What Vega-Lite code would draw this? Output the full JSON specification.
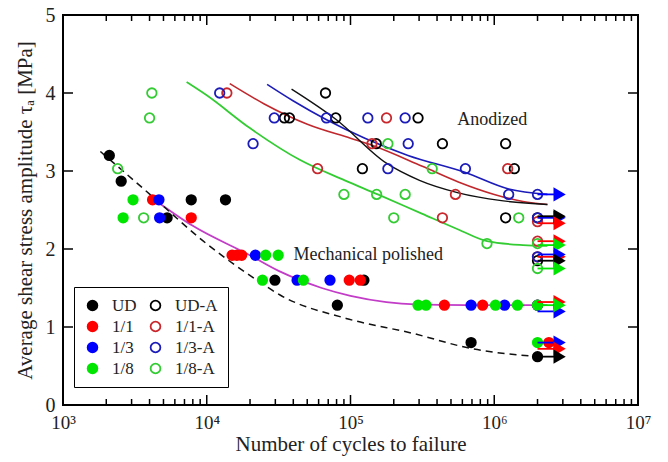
{
  "$schema": "https://vega.github.io/schema/vega-lite/v6.json",
  "width": 575,
  "height": 390,
  "autosize": {"type": "none"},
  "padding": {"left": 63, "top": 15, "right": 30, "bottom": 57},
  "background": "white",
  "config": {
    "view": {"stroke": "black", "strokeWidth": 2},
    "font": "Liberation Serif",
    "axis": {"labelFont": "Liberation Serif", "titleFont": "Liberation Serif", "labelColor": "#222", "titleColor": "#222", "titleFontWeight": "normal", "grid": false, "domain": false, "ticks": false, "labelFlush": false, "labelOverlap": false, "labelBound": false}
  },
  "datasets": {
    "xticks": [
      {"N": 1000, "kind": "major"}, {"N": 10000, "kind": "major"}, {"N": 100000, "kind": "major"}, {"N": 1000000, "kind": "major"}, {"N": 10000000, "kind": "major"},
      {"N": 2000, "kind": "minor"}, {"N": 3000, "kind": "minor"}, {"N": 4000, "kind": "minor"}, {"N": 5000, "kind": "minor"}, {"N": 6000, "kind": "minor"}, {"N": 7000, "kind": "minor"}, {"N": 8000, "kind": "minor"}, {"N": 9000, "kind": "minor"},
      {"N": 20000, "kind": "minor"}, {"N": 30000, "kind": "minor"}, {"N": 40000, "kind": "minor"}, {"N": 50000, "kind": "minor"}, {"N": 60000, "kind": "minor"}, {"N": 70000, "kind": "minor"}, {"N": 80000, "kind": "minor"}, {"N": 90000, "kind": "minor"},
      {"N": 200000, "kind": "minor"}, {"N": 300000, "kind": "minor"}, {"N": 400000, "kind": "minor"}, {"N": 500000, "kind": "minor"}, {"N": 600000, "kind": "minor"}, {"N": 700000, "kind": "minor"}, {"N": 800000, "kind": "minor"}, {"N": 900000, "kind": "minor"},
      {"N": 2000000, "kind": "minor"}, {"N": 3000000, "kind": "minor"}, {"N": 4000000, "kind": "minor"}, {"N": 5000000, "kind": "minor"}, {"N": 6000000, "kind": "minor"}, {"N": 7000000, "kind": "minor"}, {"N": 8000000, "kind": "minor"}, {"N": 9000000, "kind": "minor"}
    ],
    "yticks": [{"tau": 1}, {"tau": 2}, {"tau": 3}, {"tau": 4}],
    "points": [
      {"series": "UD", "N": 2100, "tau": 3.2}, {"series": "UD", "N": 2540, "tau": 2.87}, {"series": "UD", "N": 7800, "tau": 2.63}, {"series": "UD", "N": 13500, "tau": 2.63}, {"series": "UD", "N": 5300, "tau": 2.4}, {"series": "UD", "N": 29800, "tau": 1.6}, {"series": "UD", "N": 81000, "tau": 1.28}, {"series": "UD", "N": 124000, "tau": 1.6}, {"series": "UD", "N": 690000, "tau": 0.8}, {"series": "UD", "N": 2000000, "tau": 0.62},
      {"series": "1/1", "N": 4200, "tau": 2.63}, {"series": "1/1", "N": 7800, "tau": 2.4}, {"series": "1/1", "N": 15000, "tau": 1.92}, {"series": "1/1", "N": 16200, "tau": 1.92}, {"series": "1/1", "N": 17500, "tau": 1.92}, {"series": "1/1", "N": 98000, "tau": 1.6}, {"series": "1/1", "N": 117000, "tau": 1.6}, {"series": "1/1", "N": 450000, "tau": 1.28}, {"series": "1/1", "N": 830000, "tau": 1.28}, {"series": "1/1", "N": 2000000, "tau": 1.28}, {"series": "1/1", "N": 2400000, "tau": 0.8},
      {"series": "1/3", "N": 4650, "tau": 2.63}, {"series": "1/3", "N": 4700, "tau": 2.4}, {"series": "1/3", "N": 21800, "tau": 1.92}, {"series": "1/3", "N": 42500, "tau": 1.6}, {"series": "1/3", "N": 72000, "tau": 1.6}, {"series": "1/3", "N": 690000, "tau": 1.28}, {"series": "1/3", "N": 1180000, "tau": 1.28}, {"series": "1/3", "N": 2000000, "tau": 1.28},
      {"series": "1/8", "N": 3070, "tau": 2.63}, {"series": "1/8", "N": 2620, "tau": 2.4}, {"series": "1/8", "N": 25700, "tau": 1.92}, {"series": "1/8", "N": 31400, "tau": 1.92}, {"series": "1/8", "N": 24400, "tau": 1.6}, {"series": "1/8", "N": 47000, "tau": 1.6}, {"series": "1/8", "N": 295000, "tau": 1.28}, {"series": "1/8", "N": 335000, "tau": 1.28}, {"series": "1/8", "N": 1020000, "tau": 1.28}, {"series": "1/8", "N": 1450000, "tau": 1.28}, {"series": "1/8", "N": 2000000, "tau": 1.28}, {"series": "1/8", "N": 2000000, "tau": 0.8},
      {"series": "UD-A", "N": 67000, "tau": 4.0}, {"series": "UD-A", "N": 34700, "tau": 3.68}, {"series": "UD-A", "N": 37600, "tau": 3.68}, {"series": "UD-A", "N": 79000, "tau": 3.68}, {"series": "UD-A", "N": 295000, "tau": 3.68}, {"series": "UD-A", "N": 151000, "tau": 3.35}, {"series": "UD-A", "N": 121000, "tau": 3.03}, {"series": "UD-A", "N": 436000, "tau": 3.35}, {"series": "UD-A", "N": 1200000, "tau": 3.35}, {"series": "UD-A", "N": 1380000, "tau": 3.03}, {"series": "UD-A", "N": 1200000, "tau": 2.4}, {"series": "UD-A", "N": 2000000, "tau": 2.4}, {"series": "UD-A", "N": 2000000, "tau": 1.85},
      {"series": "1/1-A", "N": 13800, "tau": 4.0}, {"series": "1/1-A", "N": 178000, "tau": 3.68}, {"series": "1/1-A", "N": 141000, "tau": 3.35}, {"series": "1/1-A", "N": 59000, "tau": 3.03}, {"series": "1/1-A", "N": 537000, "tau": 2.7}, {"series": "1/1-A", "N": 436000, "tau": 2.4}, {"series": "1/1-A", "N": 1240000, "tau": 3.03}, {"series": "1/1-A", "N": 2000000, "tau": 2.35}, {"series": "1/1-A", "N": 2000000, "tau": 2.1}, {"series": "1/1-A", "N": 2000000, "tau": 1.9},
      {"series": "1/3-A", "N": 12300, "tau": 4.0}, {"series": "1/3-A", "N": 29500, "tau": 3.68}, {"series": "1/3-A", "N": 68000, "tau": 3.68}, {"series": "1/3-A", "N": 132000, "tau": 3.68}, {"series": "1/3-A", "N": 240000, "tau": 3.68}, {"series": "1/3-A", "N": 21000, "tau": 3.35}, {"series": "1/3-A", "N": 252000, "tau": 3.35}, {"series": "1/3-A", "N": 182000, "tau": 3.03}, {"series": "1/3-A", "N": 630000, "tau": 3.03}, {"series": "1/3-A", "N": 1260000, "tau": 2.7}, {"series": "1/3-A", "N": 2000000, "tau": 2.7}, {"series": "1/3-A", "N": 2000000, "tau": 2.4}, {"series": "1/3-A", "N": 2000000, "tau": 1.9},
      {"series": "1/8-A", "N": 4150, "tau": 4.0}, {"series": "1/8-A", "N": 4000, "tau": 3.68}, {"series": "1/8-A", "N": 2400, "tau": 3.03}, {"series": "1/8-A", "N": 3640, "tau": 2.4}, {"series": "1/8-A", "N": 90000, "tau": 2.7}, {"series": "1/8-A", "N": 152000, "tau": 2.7}, {"series": "1/8-A", "N": 240000, "tau": 2.7}, {"series": "1/8-A", "N": 200000, "tau": 2.4}, {"series": "1/8-A", "N": 182000, "tau": 3.35}, {"series": "1/8-A", "N": 370000, "tau": 3.03}, {"series": "1/8-A", "N": 890000, "tau": 2.07}, {"series": "1/8-A", "N": 1480000, "tau": 2.4}, {"series": "1/8-A", "N": 2000000, "tau": 2.07}, {"series": "1/8-A", "N": 2000000, "tau": 1.75}
    ],
    "curves": [
      {"curve": "1/8-A", "N": 7244, "tau": 4.14}, {"curve": "1/8-A", "N": 10000, "tau": 3.97}, {"curve": "1/8-A", "N": 19953, "tau": 3.55}, {"curve": "1/8-A", "N": 44668, "tau": 3.14}, {"curve": "1/8-A", "N": 91201, "tau": 2.88}, {"curve": "1/8-A", "N": 154882, "tau": 2.7}, {"curve": "1/8-A", "N": 316228, "tau": 2.45}, {"curve": "1/8-A", "N": 562341, "tau": 2.25}, {"curve": "1/8-A", "N": 891251, "tau": 2.1}, {"curve": "1/8-A", "N": 1584893, "tau": 2.05}, {"curve": "1/8-A", "N": 2344229, "tau": 2.04},
      {"curve": "1/1-A", "N": 14454, "tau": 4.12}, {"curve": "1/1-A", "N": 25119, "tau": 3.86}, {"curve": "1/1-A", "N": 50119, "tau": 3.6}, {"curve": "1/1-A", "N": 100000, "tau": 3.42}, {"curve": "1/1-A", "N": 141254, "tau": 3.33}, {"curve": "1/1-A", "N": 316228, "tau": 3.06}, {"curve": "1/1-A", "N": 562341, "tau": 2.86}, {"curve": "1/1-A", "N": 1000000, "tau": 2.7}, {"curve": "1/1-A", "N": 1584893, "tau": 2.61}, {"curve": "1/1-A", "N": 2344229, "tau": 2.57},
      {"curve": "1/3-A", "N": 26303, "tau": 4.11}, {"curve": "1/3-A", "N": 39811, "tau": 3.9}, {"curve": "1/3-A", "N": 67608, "tau": 3.66}, {"curve": "1/3-A", "N": 125893, "tau": 3.42}, {"curve": "1/3-A", "N": 251189, "tau": 3.2}, {"curve": "1/3-A", "N": 630957, "tau": 2.98}, {"curve": "1/3-A", "N": 1258925, "tau": 2.77}, {"curve": "1/3-A", "N": 2344229, "tau": 2.7},
      {"curve": "UD-A", "N": 38905, "tau": 4.05}, {"curve": "UD-A", "N": 79433, "tau": 3.66}, {"curve": "UD-A", "N": 177828, "tau": 3.1}, {"curve": "UD-A", "N": 301995, "tau": 2.88}, {"curve": "UD-A", "N": 562341, "tau": 2.72}, {"curve": "UD-A", "N": 1122018, "tau": 2.62}, {"curve": "UD-A", "N": 2344229, "tau": 2.57},
      {"curve": "polished", "N": 4571, "tau": 2.6}, {"curve": "polished", "N": 7943, "tau": 2.3}, {"curve": "polished", "N": 19953, "tau": 1.92}, {"curve": "polished", "N": 31623, "tau": 1.72}, {"curve": "polished", "N": 44668, "tau": 1.6}, {"curve": "polished", "N": 63096, "tau": 1.5}, {"curve": "polished", "N": 100000, "tau": 1.4}, {"curve": "polished", "N": 177828, "tau": 1.32}, {"curve": "polished", "N": 281838, "tau": 1.29}, {"curve": "polished", "N": 630957, "tau": 1.28}, {"curve": "polished", "N": 2344229, "tau": 1.28},
      {"curve": "UD", "N": 1820, "tau": 3.25}, {"curve": "UD", "N": 4266, "tau": 2.66}, {"curve": "UD", "N": 9333, "tau": 2.11}, {"curve": "UD", "N": 22387, "tau": 1.6}, {"curve": "UD", "N": 32359, "tau": 1.41}, {"curve": "UD", "N": 93325, "tau": 1.11}, {"curve": "UD", "N": 269153, "tau": 0.92}, {"curve": "UD", "N": 707946, "tau": 0.72}, {"curve": "UD", "N": 2041738, "tau": 0.62}
    ],
    "arrows": [
      {"group": "1/3", "tau": 2.7}, {"group": "1/3", "tau": 2.4}, {"group": "UD", "tau": 2.42}, {"group": "1/1", "tau": 2.33},
      {"group": "1/1", "tau": 2.1}, {"group": "1/8", "tau": 2.05}, {"group": "1/1", "tau": 1.9}, {"group": "1/3", "tau": 1.93}, {"group": "UD", "tau": 1.85},
      {"group": "1/8", "tau": 1.75}, {"group": "1/1", "tau": 1.32}, {"group": "1/3", "tau": 1.2}, {"group": "1/8", "tau": 1.28},
      {"group": "1/3", "tau": 0.8}, {"group": "1/1", "tau": 0.72}, {"group": "UD", "tau": 0.62}
    ],
    "notes": [
      {"label": "Anodized", "N": 968000, "tau": 3.66},
      {"label": "Mechanical polished", "N": 133000, "tau": 1.92}
    ]
  },
  "layer": [
    {
      "data": {"name": "xticks"},
      "transform": [{"filter": "datum.kind == 'major'"}],
      "mark": {"type": "rule", "color": "black", "strokeWidth": 1.5},
      "encoding": {
        "x": {"field": "N", "type": "quantitative", "scale": {"type": "log", "domain": [1000, 10000000], "nice": false},
          "axis": {"orient": "bottom", "ticks": false, "title": "Number of cycles to failure", "titleFontSize": 21, "titlePadding": 1, "labelFontSize": 19, "labelPadding": 8,
            "values": [1000, 10000, 100000, 1000000, 10000000],
            "labelExpr": "datum.value == 1000 ? '10³' : datum.value == 10000 ? '10⁴' : datum.value == 100000 ? '10⁵' : datum.value == 1000000 ? '10⁶' : '10⁷'"}},
        "y": {"datum": 0, "type": "quantitative", "scale": {"domain": [0, 5], "nice": false},
          "axis": {"orient": "left", "ticks": false, "format": "d", "labelExpr": "format(datum.value, 'd')", "title": "Average shear stress amplitude  τₐ  [MPa]", "titleFontSize": 21, "titlePadding": 10, "labelFontSize": 20, "labelPadding": 8, "values": [0, 1, 2, 3, 4, 5]}},
        "y2": {"datum": 0.128}
      }
    },
    {
      "data": {"name": "xticks"},
      "transform": [{"filter": "datum.kind == 'major'"}],
      "mark": {"type": "rule", "color": "black", "strokeWidth": 1.5},
      "encoding": {"x": {"field": "N", "type": "quantitative"}, "y": {"datum": 5, "type": "quantitative"}, "y2": {"datum": 4.872}}
    },
    {
      "data": {"name": "xticks"},
      "transform": [{"filter": "datum.kind == 'minor'"}],
      "mark": {"type": "rule", "color": "black", "strokeWidth": 1.5},
      "encoding": {"x": {"field": "N", "type": "quantitative"}, "y": {"datum": 0, "type": "quantitative"}, "y2": {"datum": 0.077}}
    },
    {
      "data": {"name": "xticks"},
      "transform": [{"filter": "datum.kind == 'minor'"}],
      "mark": {"type": "rule", "color": "black", "strokeWidth": 1.5},
      "encoding": {"x": {"field": "N", "type": "quantitative"}, "y": {"datum": 5, "type": "quantitative"}, "y2": {"datum": 4.923}}
    },
    {
      "data": {"name": "yticks"},
      "mark": {"type": "rule", "color": "black", "strokeWidth": 1.5},
      "encoding": {"y": {"field": "tau", "type": "quantitative"}, "x": {"datum": 1000, "type": "quantitative"}, "x2": {"datum": 1174}}
    },
    {
      "data": {"name": "yticks"},
      "mark": {"type": "rule", "color": "black", "strokeWidth": 1.5},
      "encoding": {"y": {"field": "tau", "type": "quantitative"}, "x": {"datum": 8520000, "type": "quantitative"}, "x2": {"datum": 10000000}}
    },
    {
      "data": {"name": "curves"},
      "transform": [{"filter": "datum.curve == '1/8-A'"}],
      "mark": {"type": "line", "color": "#33cc33", "strokeWidth": 1.8, "interpolate": "monotone"},
      "encoding": {"x": {"field": "N", "type": "quantitative"}, "y": {"field": "tau", "type": "quantitative"}}
    },
    {
      "data": {"name": "curves"},
      "transform": [{"filter": "datum.curve == '1/1-A'"}],
      "mark": {"type": "line", "color": "#c0282d", "strokeWidth": 1.6, "interpolate": "monotone"},
      "encoding": {"x": {"field": "N", "type": "quantitative"}, "y": {"field": "tau", "type": "quantitative"}}
    },
    {
      "data": {"name": "curves"},
      "transform": [{"filter": "datum.curve == '1/3-A'"}],
      "mark": {"type": "line", "color": "#1c1cb8", "strokeWidth": 1.6, "interpolate": "monotone"},
      "encoding": {"x": {"field": "N", "type": "quantitative"}, "y": {"field": "tau", "type": "quantitative"}}
    },
    {
      "data": {"name": "curves"},
      "transform": [{"filter": "datum.curve == 'UD-A'"}],
      "mark": {"type": "line", "color": "#111111", "strokeWidth": 1.4, "interpolate": "monotone"},
      "encoding": {"x": {"field": "N", "type": "quantitative"}, "y": {"field": "tau", "type": "quantitative"}}
    },
    {
      "data": {"name": "curves"},
      "transform": [{"filter": "datum.curve == 'polished'"}],
      "mark": {"type": "line", "color": "#c23cc8", "strokeWidth": 1.8, "interpolate": "monotone"},
      "encoding": {"x": {"field": "N", "type": "quantitative"}, "y": {"field": "tau", "type": "quantitative"}}
    },
    {
      "data": {"name": "curves"},
      "transform": [{"filter": "datum.curve == 'UD'"}],
      "mark": {"type": "line", "color": "#111111", "strokeWidth": 1.5, "strokeDash": [7, 5], "interpolate": "monotone"},
      "encoding": {"x": {"field": "N", "type": "quantitative"}, "y": {"field": "tau", "type": "quantitative"}}
    },
    {
      "data": {"name": "points"},
      "mark": {"type": "point", "shape": "circle", "size": 90, "strokeWidth": 1.8, "opacity": 1},
      "encoding": {
        "x": {"field": "N", "type": "quantitative"},
        "y": {"field": "tau", "type": "quantitative"},
        "fill": {"field": "series", "type": "nominal",
          "scale": {"domain": ["UD","1/1","1/3","1/8","UD-A","1/1-A","1/3-A","1/8-A"], "range": ["#000000","#ff0000","#0000ff","#00e600","transparent","transparent","transparent","transparent"]},
          "legend": {"title": null, "orient": "none", "legendX": 11, "legendY": 272, "columns": 2, "padding": 10, "symbolSize": 95, "symbolStrokeWidth": 1.8, "symbolOpacity": 1, "symbolType": "circle", "labelFont": "Liberation Serif", "labelFontSize": 17, "labelColor": "#222", "labelOffset": 11, "columnPadding": 10, "rowPadding": 3, "fillColor": "white", "strokeColor": "black"}},
        "stroke": {"field": "series", "type": "nominal",
          "scale": {"domain": ["UD","1/1","1/3","1/8","UD-A","1/1-A","1/3-A","1/8-A"], "range": ["#000000","#ff0000","#0000ff","#00e600","#000000","#c8282d","#1c1cb8","#33cc33"]},
          "legend": {"title": null, "orient": "none", "legendX": 11, "legendY": 272, "columns": 2, "padding": 10, "symbolSize": 95, "symbolStrokeWidth": 1.8, "symbolOpacity": 1, "symbolType": "circle", "labelFont": "Liberation Serif", "labelFontSize": 17, "labelColor": "#222", "labelOffset": 11, "columnPadding": 10, "rowPadding": 3, "fillColor": "white", "strokeColor": "black"}}
      }
    },
    {
      "data": {"name": "arrows"},
      "mark": {"type": "rule", "strokeWidth": 1.8},
      "encoding": {
        "x": {"datum": 2000000, "type": "quantitative"},
        "x2": {"datum": 2750000},
        "y": {"field": "tau", "type": "quantitative"},
        "color": {"field": "group", "type": "nominal", "scale": {"domain": ["UD","1/1","1/3","1/8"], "range": ["#000000","#ff0000","#0000ff","#00e600"]}, "legend": null}
      }
    },
    {
      "data": {"name": "arrows"},
      "mark": {"type": "point", "shape": "triangle-right", "filled": true, "size": 200, "opacity": 1},
      "encoding": {
        "x": {"datum": 2850000, "type": "quantitative"},
        "y": {"field": "tau", "type": "quantitative"},
        "color": {"field": "group", "type": "nominal", "legend": null}
      }
    },
    {
      "data": {"name": "notes"},
      "mark": {"type": "text", "font": "Liberation Serif", "fontSize": 18, "color": "#222", "align": "center", "baseline": "middle"},
      "encoding": {
        "x": {"field": "N", "type": "quantitative"},
        "y": {"field": "tau", "type": "quantitative"},
        "text": {"field": "label"}
      }
    }
  ]
}
